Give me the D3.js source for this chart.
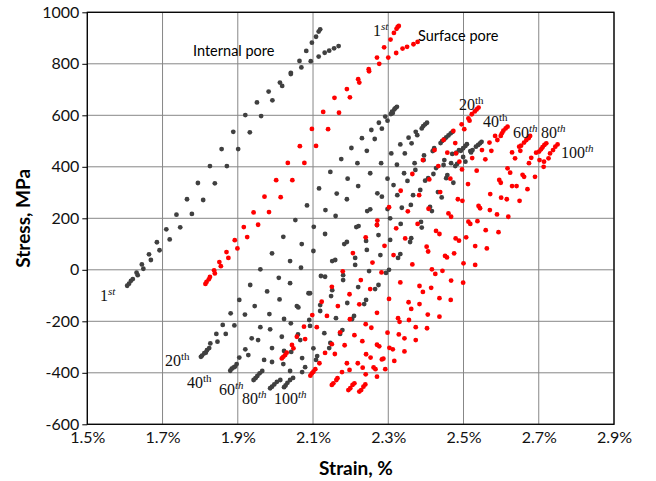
<!DOCTYPE html>
<html>
<head>
<meta charset="utf-8">
<script src="https://cdn.jsdelivr.net/npm/d3@7"></script>
<style>
body{margin:0;background:#fff}
text{font-family:Lato,"Open Sans",sans-serif}
.lab{font-family:"Liberation Serif",serif}
</style>
</head>
<body>
<div id="chart"></div>
<script>
// ticks
const xTicks = [1.5, 1.7, 1.9, 2.1, 2.3, 2.5, 2.7, 2.9]
const yTicks = [-600, -400, -200, 0, 200, 400, 600, 800, 1000]

// internal pore, [strain %, stress MPa]
const internal1 = [[2.119,934],[2.115,925],[2.108,905],[2.097,882],[2.082,850],[2.064,811],[2.041,765],[2.018,714],[2.012,727],[1.982,692],[1.951,650],[1.920,601],[1.888,536],[1.857,469],[1.826,403],[1.794,337],[1.765,274],[1.737,214],[1.710,157],[1.685,107],[1.664,60],[1.645,21],[1.631,-11],[1.621,-36],[1.616,-43],[1.611,-54],[1.606,-62],
 [2.168,869],[2.156,860],[2.143,851],[2.131,843],[2.115,828],[2.094,810],[2.069,786],[2.041,760],[1.992,658],[1.962,597],[1.932,534],[1.901,469],[1.871,403],[1.839,336],[1.808,271],[1.778,217],[1.747,165],[1.719,118],[1.692,76],[1.669,38],[1.649,4],[1.634,-21]]
const internal20 = [[2.323,633],[2.319,628],[2.316,623],[2.310,614],[2.307,605],[2.292,595],[2.275,571],[2.255,543],[2.230,511],[2.202,473],[2.175,430],[2.146,380],[2.116,316],[2.084,250],[2.053,193],[2.021,128],[1.991,64],[1.960,2],[1.933,-59],[1.904,-117],[1.881,-169],[1.860,-214],[1.843,-249],[1.827,-286],[1.818,-312],[1.811,-324],[1.802,-338],
 [1.805,-333],[1.815,-322],[1.824,-304],[1.846,-279],[1.868,-249],[1.891,-216],[1.919,-174],[1.945,-141],[1.978,-84],[2.009,-31],[2.039,34],[2.070,100],[2.102,167],[2.133,232],[2.163,296],[2.192,354],[2.218,414],[2.243,462],[2.264,508],[2.283,548],[2.298,579],[2.312,609]]
const internal40 = [[2.403,571],[2.398,565],[2.393,558],[2.389,549],[2.373,536],[2.354,513],[2.332,487],[2.308,452],[2.281,414],[2.252,375],[2.220,325],[2.190,274],[2.160,209],[2.132,139],[2.101,73],[2.068,8],[2.039,-52],[2.011,-115],[1.984,-172],[1.960,-223],[1.937,-266],[1.920,-309],[1.904,-341],[1.893,-376],[1.884,-384],[1.880,-392],
 [1.889,-379],[1.897,-366],[1.928,-331],[1.954,-273],[1.986,-231],[2.023,-191],[2.057,-141],[2.088,-91],[2.121,-24],[2.151,34],[2.183,100],[2.215,166],[2.244,228],[2.271,297],[2.298,354],[2.323,408],[2.344,452],[2.362,491],[2.377,523]]
const internal60 = [[2.471,536],[2.466,530],[2.460,522],[2.454,514],[2.449,507],[2.443,500],[2.422,472],[2.395,444],[2.370,414],[2.342,375],[2.314,329],[2.283,284],[2.252,235],[2.221,170],[2.190,108],[2.159,38],[2.132,-27],[2.092,-91],[2.061,-146],[2.041,-208],[2.017,-260],[1.991,-304],[1.970,-350],[1.958,-402],[1.952,-412],[1.947,-421],[1.942,-428],
 [1.965,-393],[1.991,-358],[2.023,-315],[2.060,-251],[2.090,-195],[2.119,-137],[2.151,-79],[2.180,-21],[2.212,46],[2.241,112],[2.270,174],[2.298,236],[2.324,290],[2.351,345],[2.372,388],[2.394,426],[2.418,461],[2.439,492]]
const internal80 = [[2.509,488],[2.505,481],[2.499,472],[2.493,462],[2.481,455],[2.467,414],[2.447,407],[2.420,372],[2.398,346],[2.366,290],[2.336,241],[2.305,200],[2.274,135],[2.243,77],[2.212,19],[2.180,-40],[2.148,-102],[2.119,-160],[2.092,-218],[2.066,-273],[2.042,-319],[2.021,-366],[2.004,-435],[1.997,-445],[1.991,-454],[1.986,-460],
 [2.013,-428],[2.039,-393],[2.071,-343],[2.101,-305],[2.130,-246],[2.161,-188],[2.191,-129],[2.220,-67],[2.249,-5],[2.279,57],[2.305,116],[2.333,178],[2.360,252],[2.385,310],[2.406,356],[2.427,395],[2.449,426],[2.470,450],[2.488,465]]
const internal100 = [[2.548,497],[2.544,491],[2.539,485],[2.533,478],[2.524,465],[2.520,456],[2.505,420],[2.483,411],[2.457,368],[2.473,338],[2.442,281],[2.416,228],[2.389,164],[2.358,108],[2.326,46],[2.294,-12],[2.265,-75],[2.236,-133],[2.204,-191],[2.172,-249],[2.143,-304],[2.108,-350],[2.071,-397],[2.039,-428],[2.032,-439],[2.027,-449],[2.023,-456],
 [2.047,-420],[2.079,-378],[2.111,-335],[2.146,-284],[2.178,-234],[2.209,-179],[2.241,-117],[2.274,-59],[2.302,0],[2.332,61],[2.361,123],[2.387,186],[2.411,244],[2.432,302],[2.454,356],[2.478,403],[2.499,438],[2.518,461]]

// surface pore
const surface1 = [[2.328,947],[2.325,943],[2.322,936],[2.315,920],[2.306,894],[2.289,864],[2.270,824],[2.248,779],[2.220,740],[2.190,702],[2.157,668],[2.127,613],[2.097,547],[2.065,480],[2.033,415],[2.002,348],[1.971,284],[1.942,223],[1.916,166],[1.892,115],[1.870,69],[1.851,30],[1.837,-2],[1.826,-28],[1.817,-47],[1.814,-55],
 [2.378,885],[2.367,876],[2.350,866],[2.338,859],[2.321,842],[2.300,824],[2.276,800],[2.249,771],[2.223,727],[2.198,670],[2.169,610],[2.140,546],[2.108,481],[2.077,415],[2.045,348],[2.014,282],[1.983,224],[1.954,175],[1.925,127],[1.899,83],[1.875,46],[1.855,14],[1.839,-14],[1.823,-37]]
const surface20 = [[2.540,630],[2.535,623],[2.530,615],[2.522,604],[2.513,588],[2.495,565],[2.473,539],[2.447,504],[2.423,465],[2.392,426],[2.364,372],[2.333,307],[2.302,243],[2.271,191],[2.240,126],[2.206,65],[2.179,-6],[2.150,-66],[2.123,-124],[2.098,-176],[2.076,-221],[2.057,-260],[2.044,-292],[2.030,-322],[2.026,-331],[2.021,-338],[2.017,-344],
 [2.048,-305],[2.079,-269],[2.110,-223],[2.137,-179],[2.166,-141],[2.197,-95],[2.227,-40],[2.258,28],[2.290,93],[2.321,161],[2.352,227],[2.382,290],[2.409,351],[2.433,403],[2.457,455],[2.478,492],[2.502,546],[2.516,579],[2.270,174],[2.489,420],[2.480,452]]
const surface40 = [[2.617,556],[2.612,549],[2.606,540],[2.602,530],[2.599,520],[2.590,504],[2.569,494],[2.549,465],[2.523,434],[2.496,390],[2.465,354],[2.438,302],[2.407,237],[2.378,178],[2.345,122],[2.314,57],[2.282,-10],[2.252,-75],[2.223,-134],[2.198,-192],[2.172,-243],[2.150,-289],[2.132,-323],[2.117,-363],[2.106,-386],[2.101,-396],[2.097,-402],[2.093,-411],
 [2.158,-327],[2.184,-293],[2.210,-254],[2.240,-211],[2.270,-167],[2.302,-113],[2.332,-49],[2.364,21],[2.402,90],[2.427,151],[2.460,219],[2.485,274],[2.512,333],[2.535,385],[2.558,429],[2.574,462],[2.584,520],[2.497,268],[2.467,206],[2.436,139],[2.406,71]]
const surface60 = [[2.677,520],[2.673,511],[2.667,504],[2.661,494],[2.653,482],[2.648,478],[2.651,462],[2.629,456],[2.637,433],[2.617,394],[2.624,377],[2.595,349],[2.599,338],[2.571,294],[2.540,248],[2.544,239],[2.513,187],[2.518,178],[2.479,122],[2.488,113],[2.451,54],[2.456,48],[2.416,2],[2.425,-16],[2.383,-63],[2.354,-126],[2.326,-188],[2.298,-244],[2.255,-225],[2.270,-291],[2.231,-277],[2.241,-328],[2.190,-363],[2.219,-363],[2.177,-397],[2.197,-389],[2.165,-421],[2.162,-428],[2.154,-441],[2.150,-447]]
const surface80 = [[2.720,491],[2.715,485],[2.710,476],[2.706,468],[2.701,459],[2.693,455],[2.680,435],[2.674,414],[2.657,369],[2.661,361],[2.629,325],[2.641,325],[2.600,280],[2.615,274],[2.570,232],[2.537,189],[2.559,154],[2.507,126],[2.475,64],[2.444,-4],[2.392,-86],[2.414,-70],[2.361,-152],[2.383,-133],[2.330,-202],[2.355,-195],[2.328,-251],[2.276,-297],[2.303,-303],[2.253,-341],[2.283,-348],[2.232,-380],[2.261,-379],[2.240,-406],[2.210,-441],[2.205,-447],[2.199,-460],[2.194,-467]]
const surface100 = [[2.750,487],[2.744,478],[2.738,465],[2.730,452],[2.726,433],[2.714,420],[2.702,426],[2.713,400],[2.690,361],[2.670,313],[2.649,268],[2.589,215],[2.619,206],[2.593,146],[2.531,92],[2.562,83],[2.500,25],[2.531,19],[2.467,-42],[2.499,-50],[2.436,-110],[2.466,-117],[2.405,-174],[2.436,-182],[2.373,-223],[2.403,-227],[2.343,-266],[2.373,-273],[2.312,-309],[2.343,-317],[2.287,-345],[2.316,-354],[2.266,-386],[2.292,-386],[2.270,-415],[2.239,-445],[2.234,-454],[2.228,-467],[2.223,-473]]

const internalSeries = [internal1, internal20, internal40, internal60, internal80, internal100]
const surfaceSeries = [surface1, surface20, surface40, surface60, surface80, surface100]

const width = 656
const height = 481
const margin = {top: 12.3, left: 87.3, right: 42, bottom: 56.7}

const svg = d3.select('#chart')
  .append('svg')
  .attr('width', width)
  .attr('height', height)

const x = d3.scaleLinear().domain([1.5, 2.9]).range([margin.left, width - margin.right])
const y = d3.scaleLinear().domain([-600, 1000]).range([height - margin.bottom, margin.top])

// grid
svg.append('g').selectAll('line')
  .data(xTicks)
  .enter().append('line')
  .attr('x1', d => x(d)).attr('x2', d => x(d))
  .attr('y1', y(1000)).attr('y2', y(-600))
  .attr('stroke', '#878787').attr('stroke-width', 1)

svg.append('g').selectAll('line')
  .data(yTicks)
  .enter().append('line')
  .attr('x1', x(1.5)).attr('x2', x(2.9))
  .attr('y1', d => y(d)).attr('y2', d => y(d))
  .attr('stroke', '#878787').attr('stroke-width', 1)

// axes
const xAxis = d3.axisBottom(x).tickValues(xTicks).tickSize(0).tickFormat(d => d.toFixed(1) + '%')
const gx = svg.append('g').attr('transform', `translate(0,${y(-600)})`).call(xAxis)
gx.select('.domain').remove()
gx.selectAll('text').attr('dy', 0).attr('y', 19).attr('font-size', '16px').attr('fill', '#111')

const yAxis = d3.axisLeft(y).tickValues(yTicks).tickSize(5).tickPadding(3).tickFormat(d => String(d))
const gy = svg.append('g').attr('transform', `translate(${x(1.5)},0)`).call(yAxis)
gy.select('.domain').remove()
gy.selectAll('line').attr('stroke', '#000')
gy.selectAll('text').attr('font-size', '16px').attr('fill', '#111')

// frame
svg.append('rect')
  .attr('x', x(1.5)).attr('y', y(1000))
  .attr('width', x(2.9) - x(1.5)).attr('height', y(-600) - y(1000))
  .attr('fill', 'none').attr('stroke', '#000').attr('stroke-width', 1.3)

// points
internalSeries.forEach(s => {
  svg.append('g').selectAll('circle')
    .data(s)
    .enter().append('circle')
    .attr('cx', d => x(d[0])).attr('cy', d => y(d[1]))
    .attr('r', 2.4).attr('fill', '#404040')
})
surfaceSeries.forEach(s => {
  svg.append('g').selectAll('circle')
    .data(s)
    .enter().append('circle')
    .attr('cx', d => x(d[0])).attr('cy', d => y(d[1]))
    .attr('r', 2.4).attr('fill', '#ff0000')
})

// axis titles
svg.append('text')
  .attr('x', 356).attr('y', 475)
  .attr('text-anchor', 'middle')
  .attr('font-size', '19px').attr('font-weight', 'bold')
  .text('Strain, %')

svg.append('text')
  .attr('transform', `translate(30,${y(200)}) rotate(-90)`)
  .attr('text-anchor', 'middle')
  .attr('font-size', '19px').attr('font-weight', 'bold')
  .text('Stress, MPa')

svg.append('text').attr('x', 193).attr('y', 56).attr('font-size', '14.5px').text('Internal pore')
svg.append('text').attr('x', 418).attr('y', 41).attr('font-size', '14.5px').text('Surface pore')

// cycle labels
const cycleLabels = [
  ['1', 'st', true, 100, 301],
  ['1', 'st', true, 373, 36],
  ['20', 'th', false, 165, 366],
  ['40', 'th', false, 187, 388],
  ['60', 'th', true, 219, 395],
  ['80', 'th', true, 242, 404],
  ['100', 'th', true, 274, 404],
  ['20', 'th', false, 459, 110],
  ['40', 'th', false, 483, 127],
  ['60', 'th', true, 513, 138],
  ['80', 'th', true, 541, 138],
  ['100', 'th', true, 561, 158]
]
cycleLabels.forEach(l => {
  const t = svg.append('text').attr('class', 'lab')
    .attr('x', l[3]).attr('y', l[4])
    .attr('font-size', '16px').attr('fill', '#111')
  t.append('tspan').text(l[0])
  t.append('tspan')
    .attr('dy', -6).attr('font-size', '11px')
    .attr('font-style', l[2] ? 'italic' : 'normal')
    .text(l[1])
})
</script>
</body>
</html>
